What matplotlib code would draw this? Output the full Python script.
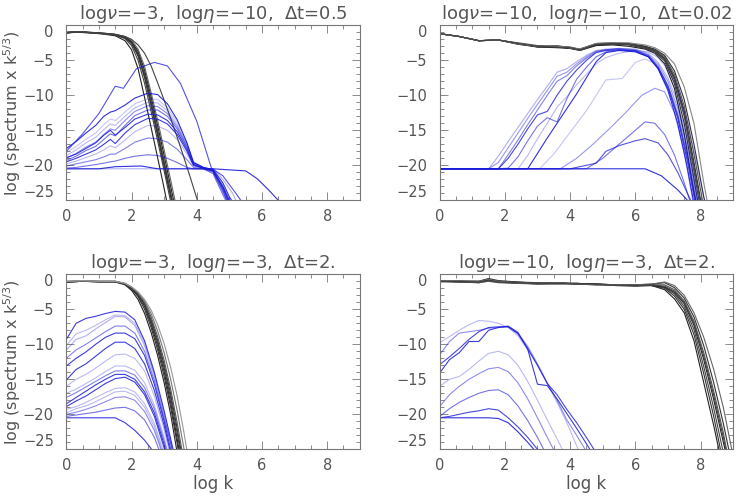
import numpy as np
import matplotlib
matplotlib.use("Agg")
import matplotlib.pyplot as plt
from matplotlib.ticker import MultipleLocator, FixedLocator

# ---------------- panel 1: log nu=-3, log eta=-10, dt=0.5 ----------------
p1_title = r"log$\nu$=$-$3,  log$\eta$=$-$10,  $\Delta$t=0.5"
p1_kx = [0, 0.3, 0.6, 0.9, 1.2, 1.5, 1.8, 2.0, 2.2, 2.4, 2.6, 2.8, 3.0, 3.2, 3.4, 3.6, 3.8, 4.0, 4.2]
p1_ky = [
    [-1.1, -0.95, -1.05, -1.15, -1.3, -1.5, -2.2, -3.5, -6.2, -10.3, -14.6, -18.9, -23.3, -28, -30, -30, -30, -30, -30],
    [-1.0, -0.9, -1.0, -1.1, -1.2, -1.4, -1.9, -2.9, -5.0, -8.3, -12.3, -16.5, -20.8, -25.2, -30, -30, -30, -30, -30],
    [-1.05, -0.95, -1.0, -1.1, -1.2, -1.35, -1.8, -2.6, -4.4, -7.5, -11.5, -15.8, -20.2, -24.5, -29, -30, -30, -30, -30],
    [-1.1, -0.9, -1.0, -1.05, -1.15, -1.3, -1.7, -2.4, -4.0, -6.9, -10.8, -15.0, -19.4, -23.8, -28.2, -30, -30, -30, -30],
    [-1.0, -0.9, -0.95, -1.05, -1.15, -1.3, -1.65, -2.3, -3.7, -6.4, -10.2, -14.3, -18.6, -23.0, -27.4, -30, -30, -30, -30],
    [-1.05, -0.95, -1.0, -1.1, -1.2, -1.3, -1.6, -2.1, -3.4, -5.9, -9.6, -13.6, -17.8, -22.1, -26.5, -30, -30, -30, -30],
    [-1.1, -1.0, -1.05, -1.1, -1.2, -1.35, -1.75, -2.5, -4.2, -7.2, -11.1, -15.4, -19.8, -24.2, -28.6, -30, -30, -30, -30],
    [-1.1, -0.95, -1.0, -1.1, -1.2, -1.3, -1.6, -2.0, -2.8, -4.0, -5.8, -8.2, -10.7, -13.3, -16.0, -18.8, -21.7, -24.7, -27.7],
]
p1_kc = ["#222222", "#444444", "#333333", "#555555", "#222222", "#666666", "#333333", "#444444"]

p1_bx_main = [0, 0.3, 0.6, 0.9, 1.15, 1.35, 1.5, 1.8, 2.1, 2.5, 2.8, 3.1, 3.4, 3.7, 3.9, 4.2, 4.5, 4.8, 5.0, 5.2]
p1_by_main = [
    [-17.6, -16.6, -15.4, -14.3, -13.0, -12.4, -12.2, -11.4, -10.4, -9.7, -9.9, -11.2, -13.5, -16.8, -19.6, -20.3, -20.6, -22.5, -24.5, -26],
    [-18.2, -17.3, -16.3, -15.4, -14.2, -13.4, -13.6, -12.4, -11.2, -10.5, -10.6, -11.8, -13.8, -16.8, -19.5, -20.3, -20.6, -22.8, -24.8, -26],
    [-18.6, -17.8, -16.8, -16.0, -14.9, -14.1, -14.3, -13.0, -11.8, -11.0, -11.1, -12.2, -14.2, -17.0, -19.6, -20.3, -20.7, -23.0, -25.2, -26],
    [-19.0, -18.3, -17.4, -16.7, -15.6, -14.8, -15.0, -13.6, -12.3, -11.5, -11.6, -12.6, -14.5, -17.2, -19.7, -20.3, -20.7, -23.3, -25.5, -26],
    [-19.3, -18.7, -17.9, -17.3, -16.3, -15.5, -15.8, -14.3, -12.9, -12.1, -12.1, -13.0, -14.8, -17.4, -19.8, -20.4, -20.8, -23.6, -25.8, -26],
    [-18.9, -18.4, -17.6, -16.8, -15.7, -15.0, -15.7, -14.6, -13.4, -12.7, -12.8, -13.6, -15.2, -17.7, -19.9, -20.4, -20.8, -23.0, -25.0, -26],
    [-19.5, -19.0, -18.4, -17.8, -17.0, -16.3, -16.9, -15.4, -14.2, -13.3, -13.4, -14.1, -15.6, -18.0, -20.0, -20.4, -20.8, -23.2, -25.3, -26],
    [-19.8, -19.4, -18.9, -18.4, -17.8, -17.2, -17.5, -16.4, -15.2, -14.3, -14.4, -15.0, -16.3, -18.4, -20.1, -20.5, -20.9, -23.5, -25.6, -26],
    [-20.1, -19.8, -19.5, -19.2, -18.8, -18.4, -18.4, -17.6, -16.7, -16.1, -16.2, -16.7, -17.7, -19.2, -20.3, -20.5, -21.0, -23.8, -25.8, -26],
    [-20.4, -20.3, -20.1, -19.9, -19.7, -19.5, -19.4, -19.0, -18.7, -18.5, -18.6, -19.0, -19.6, -20.3, -20.5, -20.5, -21.2, -24.2, -26, -26],
]
p1_ba_main = [0.9, 0.25, 0.3, 0.5, 0.6, 0.85, 0.85, 0.3, 0.55, 0.6]
p1_bx_extra = [
    [0, 0.5, 1.0, 1.5, 1.75, 2.15, 2.7, 3.1, 3.5, 4.0, 4.45, 4.8, 5.2, 5.5],
    [0, 1.0, 1.5, 2.3, 2.8, 4.5, 5.5, 5.85, 6.2, 6.6],
    [0, 4.5, 4.8, 5.1, 5.3],
]
p1_by_extra = [
    [-18.0, -15.5, -12.6, -8.7, -9.0, -6.2, -5.3, -5.8, -8.3, -13.7, -20.4, -21.5, -24.0, -26],
    [-20.5, -20.5, -20.2, -20.1, -20.5, -20.5, -20.8, -21.9, -23.5, -25.5],
    [-20.5, -20.5, -22.0, -24.0, -26],
]
p1_ba_extra = [0.75, 0.9, 0.35]

# ---------------- panel 2: log nu=-10, log eta=-10, dt=0.02 ----------------
p2_title = r"log$\nu$=$-$10,  log$\eta$=$-$10,  $\Delta$t=0.02"
p2_kx = [0, 0.6, 1.2, 1.8, 2.4, 3.0, 3.6, 4.0, 4.3, 4.8, 5.3, 5.8, 6.3, 6.6, 6.9, 7.2, 7.5, 7.8, 8.1, 8.4]
p2_ky = [
    [-1.2, -1.6, -2.2, -2.1, -2.7, -3.1, -3.0, -3.3, -3.6, -2.9, -2.8, -3.0, -3.4, -4.0, -5.5, -9.0, -15.5, -24.0, -30, -30],
    [-1.2, -1.6, -2.2, -2.1, -2.6, -3.0, -3.1, -3.2, -3.5, -2.8, -2.7, -2.8, -3.3, -3.8, -5.1, -8.3, -14.0, -22.0, -30, -30],
    [-1.2, -1.6, -2.2, -2.1, -2.5, -2.9, -3.0, -3.1, -3.4, -2.7, -2.6, -2.7, -3.2, -3.7, -4.9, -7.8, -13.0, -20.8, -29, -30],
    [-1.2, -1.6, -2.2, -2.1, -2.6, -3.1, -3.2, -3.3, -3.4, -2.6, -2.5, -2.6, -3.1, -3.6, -4.7, -7.4, -12.2, -19.6, -27.5, -30],
    [-1.2, -1.6, -2.2, -2.1, -2.7, -3.0, -2.9, -3.2, -3.6, -2.7, -2.6, -2.6, -3.0, -3.5, -4.5, -7.0, -11.5, -18.4, -26.0, -30],
    [-1.2, -1.6, -2.2, -2.1, -2.6, -3.0, -3.1, -3.3, -3.5, -2.8, -2.6, -2.6, -3.0, -3.4, -4.3, -6.5, -10.6, -17.0, -24.5, -30],
    [-1.2, -1.6, -2.2, -2.1, -2.6, -3.0, -3.0, -3.2, -3.4, -2.6, -2.5, -2.5, -2.8, -3.2, -4.0, -5.5, -8.8, -14.0, -22.5, -30],
    [-1.2, -1.6, -2.2, -2.1, -2.6, -3.0, -3.1, -3.2, -3.5, -2.7, -2.6, -2.7, -3.2, -3.7, -4.8, -7.6, -12.6, -20.2, -28, -30],
]
p2_kc = ["#222222", "#333333", "#444444", "#222222", "#555555", "#333333", "#888888", "#444444"]

p2_bx_main = [0, 1.5, 1.8, 2.1, 2.4, 2.7, 3.0, 3.3, 3.6, 3.9, 4.2, 4.5, 4.8, 5.1, 5.5, 6.0, 6.4, 6.7, 7.0, 7.3, 7.6, 7.9, 8.2]
p2_by_main = [
    [-20.5, -20.5, -18.7, -16.6, -14.6, -12.6, -10.6, -8.7, -6.7, -6.2, -5.2, -4.3, -3.6, -3.4, -3.3, -3.4, -4.0, -5.3, -7.5, -11.0, -16.5, -24.0, -30],
    [-20.5, -20.5, -19.6, -17.5, -15.4, -13.3, -11.3, -9.3, -7.3, -6.7, -5.5, -4.5, -3.7, -3.5, -3.3, -3.5, -4.2, -5.6, -8.0, -11.8, -17.5, -25.0, -30],
    [-20.5, -20.5, -20.5, -18.5, -16.4, -14.2, -12.1, -10.0, -8.0, -7.2, -5.8, -4.7, -3.8, -3.5, -3.4, -3.6, -4.4, -6.0, -8.6, -12.7, -18.7, -26, -30],
    [-20.5, -20.5, -20.5, -19.0, -17.0, -14.8, -12.8, -12.3, -10.0, -8.0, -6.4, -5.0, -3.9, -3.6, -3.5, -3.7, -4.5, -6.2, -9.0, -13.2, -19.5, -27, -30],
    [-20.5, -20.5, -20.5, -20.4, -18.8, -16.5, -14.4, -13.2, -13.8, -10.5, -7.7, -6.0, -4.5, -3.8, -3.5, -3.6, -4.3, -5.9, -8.7, -13.0, -19.0, -26, -30],
    [-20.5, -20.5, -20.5, -20.5, -20.5, -18.6, -16.2, -14.0, -11.7, -10.2, -8.5, -7.0, -5.5, -4.6, -4.0, -3.6, -3.8, -4.6, -6.3, -9.2, -13.8, -20, -27],
    [-20.5, -20.5, -20.5, -20.5, -20.5, -20.5, -18.3, -16.1, -14.0, -11.9, -9.8, -7.5, -5.2, -3.9, -3.6, -3.8, -4.5, -6.2, -9.3, -14.0, -20.5, -28, -30],
]
p2_ba_main = [0.35, 0.45, 0.55, 0.8, 0.6, 0.3, 0.9]
p2_bx_extra = [
    [0, 3.06, 3.5, 4.0, 4.5, 5.1, 5.6, 6.0, 6.3, 6.6, 6.9, 7.2, 7.5, 7.8, 8.1],
    [0, 3.7, 4.2, 4.7, 5.2, 5.7, 6.2, 6.6, 6.9, 7.2, 7.5, 7.8],
    [0, 4.5, 5.0, 5.5, 6.0, 6.3, 6.6, 6.9, 7.2, 7.5, 7.7],
    [0, 4.0, 4.8, 5.1, 5.5, 6.0, 6.3, 6.7, 7.0, 7.3, 7.6, 7.8],
    [0, 6.3, 6.8, 7.3, 7.7],
]
p2_by_extra = [
    [-20.5, -20.5, -18.4, -15.3, -12.2, -7.8, -7.6, -5.3, -4.8, -5.5, -7.6, -11.0, -16.0, -23.0, -30],
    [-20.5, -20.5, -19.0, -17.0, -14.8, -12.5, -10.0, -9.0, -9.5, -12.5, -18.0, -26],
    [-20.5, -20.5, -19.0, -17.0, -15.0, -13.8, -14.0, -15.6, -18.5, -22.5, -25.5],
    [-20.5, -20.5, -19.7, -18.0, -17.2, -16.5, -16.2, -16.8, -18.5, -21.0, -24.0, -26],
    [-20.5, -20.5, -21.5, -23.5, -25.5],
]
p2_ba_extra = [0.25, 0.45, 0.6, 0.75, 0.9]

# ---------------- panel 3: log nu=-3, log eta=-3, dt=2 ----------------
p3_title = r"log$\nu$=$-$3,  log$\eta$=$-$3,  $\Delta$t=2."
p3_kx = [0, 0.5, 1.0, 1.5, 1.8, 2.0, 2.2, 2.4, 2.6, 2.8, 3.0, 3.2, 3.4, 3.6, 3.8]
p3_ky = [
    [-1.1, -1.0, -1.1, -1.1, -1.5, -2.3, -3.6, -5.6, -8.3, -11.6, -15.5, -20.0, -25.5, -30, -30],
    [-1.1, -1.0, -1.05, -1.05, -1.4, -2.1, -3.2, -5.0, -7.6, -10.8, -14.6, -19.0, -24.2, -30, -30],
    [-1.1, -1.0, -1.05, -1.05, -1.4, -2.0, -3.0, -4.6, -7.1, -10.2, -13.9, -18.3, -23.5, -29, -30],
    [-1.05, -0.95, -1.0, -1.0, -1.35, -1.95, -2.9, -4.4, -6.8, -9.8, -13.4, -17.7, -22.7, -28, -30],
    [-1.1, -1.0, -1.05, -1.05, -1.35, -1.9, -2.8, -4.2, -6.5, -9.4, -12.9, -17.1, -22.0, -27.5, -30],
    [-1.0, -0.9, -1.0, -1.0, -1.3, -1.85, -2.7, -4.0, -6.1, -8.9, -12.3, -16.4, -21.2, -26.6, -30],
    [-1.05, -0.95, -1.0, -1.0, -1.3, -1.8, -2.6, -3.8, -5.6, -8.1, -11.2, -15.0, -19.5, -24.7, -30],
    [-1.0, -0.9, -1.0, -1.0, -1.3, -1.8, -2.5, -3.6, -5.1, -7.2, -9.9, -13.3, -17.4, -22.4, -28],
]
p3_kc = ["#222222", "#333333", "#222222", "#444444", "#333333", "#555555", "#777777", "#999999"]

p3_bx = [0, 0.3, 0.6, 0.9, 1.2, 1.5, 1.8, 2.1, 2.4, 2.7, 3.0, 3.3, 3.6]
p3_by = [
    [-9.3, -7.0, -6.3, -6.0, -5.6, -5.3, -5.4, -6.5, -9.5, -14.0, -19.5, -25.5, -30],
    [-10.2, -8.5, -8.0, -7.3, -6.5, -5.8, -5.9, -7.0, -9.8, -14.2, -19.8, -26, -30],
    [-10.8, -9.3, -8.8, -7.8, -6.9, -6.0, -6.1, -7.3, -10.2, -14.6, -20.2, -26, -30],
    [-12.0, -10.8, -10.0, -9.1, -8.2, -7.4, -7.4, -8.4, -11.0, -15.2, -20.6, -26, -30],
    [-13.1, -12.0, -11.1, -10.0, -9.0, -8.4, -8.4, -9.2, -11.6, -15.7, -21.0, -27, -30],
    [-15.1, -13.6, -12.8, -11.7, -10.6, -9.7, -9.7, -10.6, -12.8, -16.6, -21.6, -27.5, -30],
    [-16.0, -15.0, -14.3, -13.4, -12.4, -11.5, -11.4, -12.0, -13.8, -17.4, -22.2, -28, -30],
    [-17.0, -16.4, -15.6, -14.8, -13.9, -13.1, -13.1, -13.7, -15.5, -18.7, -23.3, -29, -30],
    [-17.6, -16.9, -16.1, -15.3, -14.5, -13.8, -13.8, -14.4, -16.2, -19.2, -23.8, -29, -30],
    [-18.5, -17.6, -16.7, -15.8, -15.0, -14.3, -14.3, -15.0, -16.8, -19.8, -24.3, -30, -30],
    [-18.9, -18.1, -17.4, -16.5, -15.6, -14.9, -14.7, -15.4, -17.2, -20.3, -24.8, -30, -30],
    [-19.3, -18.9, -18.3, -17.6, -16.9, -16.3, -16.2, -16.8, -18.5, -21.3, -25.6, -30, -30],
    [-19.8, -19.2, -18.8, -18.2, -17.5, -16.8, -16.7, -17.3, -19.0, -21.8, -26, -30, -30],
    [-20.0, -19.7, -19.3, -18.8, -18.2, -17.6, -17.5, -18.0, -19.6, -22.3, -26.3, -30, -30],
    [-20.3, -20.1, -19.9, -19.7, -19.4, -19.1, -19.0, -19.5, -20.8, -23.3, -27, -30, -30],
    [-20.5, -20.5, -20.5, -20.5, -20.5, -20.5, -21.2, -22.3, -23.7, -25.5, -28, -30, -30],
]
p3_ba = [0.85, 0.3, 0.35, 0.55, 0.85, 0.85, 0.3, 0.3, 0.55, 0.85, 0.85, 0.3, 0.3, 0.5, 0.6, 0.85]

# ---------------- panel 4: log nu=-10, log eta=-3, dt=2 ----------------
p4_title = r"log$\nu$=$-$10,  log$\eta$=$-$3,  $\Delta$t=2."
p4_kx = [0, 0.6, 1.2, 1.5, 1.8, 2.4, 3.0, 3.6, 4.2, 4.8, 5.4, 6.0, 6.5, 6.9, 7.2, 7.5, 7.8, 8.1, 8.4, 8.7, 9.0]
p4_ky = [
    [-1.0, -1.1, -1.2, -0.9, -1.1, -1.2, -1.3, -1.2, -1.3, -1.4, -1.5, -1.5, -1.6, -2.2, -3.5, -5.5, -9.5, -15.5, -21.5, -28, -30],
    [-1.0, -1.0, -1.1, -0.8, -1.0, -1.2, -1.4, -1.3, -1.3, -1.4, -1.5, -1.6, -1.6, -2.0, -3.1, -5.0, -8.6, -14.2, -20.2, -27, -30],
    [-1.1, -1.0, -1.0, -0.7, -1.0, -1.1, -1.2, -1.3, -1.4, -1.5, -1.5, -1.6, -1.6, -1.9, -2.8, -4.6, -7.9, -13.2, -19.0, -25.5, -30],
    [-0.9, -1.0, -1.1, -0.8, -1.1, -1.3, -1.3, -1.2, -1.4, -1.4, -1.6, -1.7, -1.6, -1.8, -2.6, -4.2, -7.3, -12.2, -17.8, -24.0, -30],
    [-1.0, -1.1, -1.2, -1.0, -1.2, -1.3, -1.4, -1.3, -1.3, -1.5, -1.6, -1.6, -1.5, -1.5, -2.2, -3.8, -6.7, -11.2, -16.6, -22.6, -30],
    [-1.0, -1.0, -1.0, -0.6, -0.9, -1.1, -1.3, -1.4, -1.3, -1.4, -1.5, -1.5, -1.4, -1.2, -1.9, -3.4, -6.1, -10.2, -15.4, -21.3, -28],
    [-0.9, -0.9, -1.0, -0.7, -1.0, -1.2, -1.3, -1.2, -1.4, -1.5, -1.5, -1.5, -1.4, -1.1, -1.6, -3.0, -5.5, -9.0, -13.5, -19.0, -26],
    [-1.0, -1.1, -1.1, -0.9, -1.1, -1.2, -1.3, -1.3, -1.4, -1.4, -1.6, -1.6, -1.5, -1.7, -2.4, -4.0, -7.0, -11.7, -17.2, -23.3, -30],
]
p4_kc = ["#222222", "#333333", "#444444", "#222222", "#555555", "#333333", "#666666", "#444444"]

p4_bx = [0, 0.3, 0.6, 0.9, 1.2, 1.5, 1.8, 2.1, 2.4, 2.7, 3.0, 3.3, 3.6, 3.9, 4.2, 4.5, 4.8, 5.1]
p4_by = [
    [-9.8, -8.9, -8.0, -7.2, -6.6, -6.7, -7.0, -7.6, -8.8, -10.8, -13.0, -15.6, -18.3, -21.2, -24.5, -28, -30, -30],
    [-11.5, -9.6, -8.4, -8.2, -8.0, -7.7, -7.6, -7.5, -8.4, -10.3, -12.8, -15.5, -18.0, -20.8, -23.0, -25.3, -28, -30],
    [-14.1, -12.2, -11.2, -9.6, -9.6, -8.0, -7.6, -7.4, -8.3, -10.7, -15.7, -15.9, -17.8, -19.9, -22.0, -24.2, -26.5, -30],
    [-12.9, -11.8, -10.6, -9.3, -8.2, -7.6, -7.5, -7.5, -8.5, -10.6, -13.0, -15.6, -17.2, -19.3, -21.2, -23.3, -25.5, -30],
    [-16.0, -15.0, -14.6, -13.6, -12.4, -11.3, -11.0, -11.5, -13.0, -15.3, -18.0, -20.8, -23.5, -26.3, -30, -30, -30, -30],
    [-18.9, -17.2, -16.0, -15.0, -14.2, -13.5, -13.3, -13.9, -15.5, -17.8, -20.5, -23.3, -26, -30, -30, -30, -30, -30],
    [-20.3, -19.2, -18.3, -17.6, -17.0, -16.6, -16.5, -17.2, -18.8, -20.9, -23.3, -26, -30, -30, -30, -30, -30, -30],
    [-20.5, -20.3, -20.0, -19.7, -19.5, -19.2, -19.4, -20.5, -21.8, -23.3, -25.0, -27, -30, -30, -30, -30, -30, -30],
    [-20.5, -20.5, -20.5, -20.5, -20.5, -20.5, -20.6, -21.2, -22.5, -24.0, -25.6, -28, -30, -30, -30, -30, -30, -30],
]
p4_ba = [0.3, 0.5, 0.85, 0.8, 0.3, 0.5, 0.6, 0.8, 0.9]

BLUE = (0.1, 0.1, 0.85)
TXT = "#555555"
ylab = r"log (spectrum x k$^{5/3}$)"


def style_axes(ax, title, xlabel, ylabel):
    ax.set_xlim(0, 9)
    ax.set_ylim(-25, 0)
    ax.xaxis.set_major_locator(FixedLocator([0, 2, 4, 6, 8]))
    ax.xaxis.set_minor_locator(MultipleLocator(0.5))
    ax.yaxis.set_major_locator(FixedLocator([0, -5, -10, -15, -20, -25]))
    ax.yaxis.set_minor_locator(MultipleLocator(1))
    ax.tick_params(which="both", direction="in", top=True, right=True,
                   colors="#777777", labelcolor=TXT, labelsize=10.5, width=0.6)
    ax.tick_params(which="major", length=6)
    ax.tick_params(which="minor", length=3)
    ax.tick_params(axis="y", which="major", pad=9)
    ax.tick_params(axis="x", which="major", pad=6)
    for s in ax.spines.values():
        s.set_color("#777777")
        s.set_linewidth(0.8)
    # IDL-style: end labels pulled inside the axis range
    yt = ax.yaxis.get_major_ticks()
    yt[0].label1.set_va("top")
    yt[-1].label1.set_va("bottom")
    ax.set_title(title, fontsize=13, color=TXT, pad=4)
    if xlabel:
        ax.set_xlabel(xlabel, fontsize=12, color=TXT, labelpad=2)
    if ylabel:
        ax.set_ylabel(ylabel, fontsize=11.5, color=TXT)
        ax.yaxis.set_label_coords(-0.148, 0.5)


def draw_black(ax, kx, ky, kc):
    for y, c in zip(ky, kc):
        ax.plot(kx, y, color=c, lw=0.8)


def draw_blue(ax, xs, ys, alphas):
    for x, y, a in zip(xs, ys, alphas):
        ax.plot(x, y, color=BLUE, alpha=a, lw=0.8)


fig = plt.figure(figsize=(7.47, 4.98), dpi=100)
ax1 = fig.add_axes([0.0888, 0.5978, 0.3928, 0.3514])
ax2 = fig.add_axes([0.5886, 0.5978, 0.3928, 0.3514])
ax3 = fig.add_axes([0.0888, 0.0978, 0.3928, 0.3514])
ax4 = fig.add_axes([0.5886, 0.0978, 0.3928, 0.3514])

draw_black(ax1, p1_kx, p1_ky, p1_kc)
draw_blue(ax1, [p1_bx_main] * len(p1_by_main), p1_by_main, p1_ba_main)
draw_blue(ax1, p1_bx_extra, p1_by_extra, p1_ba_extra)
style_axes(ax1, p1_title, None, ylab)

draw_black(ax2, p2_kx, p2_ky, p2_kc)
draw_blue(ax2, [p2_bx_main] * len(p2_by_main), p2_by_main, p2_ba_main)
draw_blue(ax2, p2_bx_extra, p2_by_extra, p2_ba_extra)
style_axes(ax2, p2_title, None, None)

draw_black(ax3, p3_kx, p3_ky, p3_kc)
draw_blue(ax3, [p3_bx] * len(p3_by), p3_by, p3_ba)
style_axes(ax3, p3_title, "log k", ylab)

draw_black(ax4, p4_kx, p4_ky, p4_kc)
draw_blue(ax4, [p4_bx] * len(p4_by), p4_by, p4_ba)
style_axes(ax4, p4_title, "log k", None)

fig.savefig("out.png", dpi=100)
